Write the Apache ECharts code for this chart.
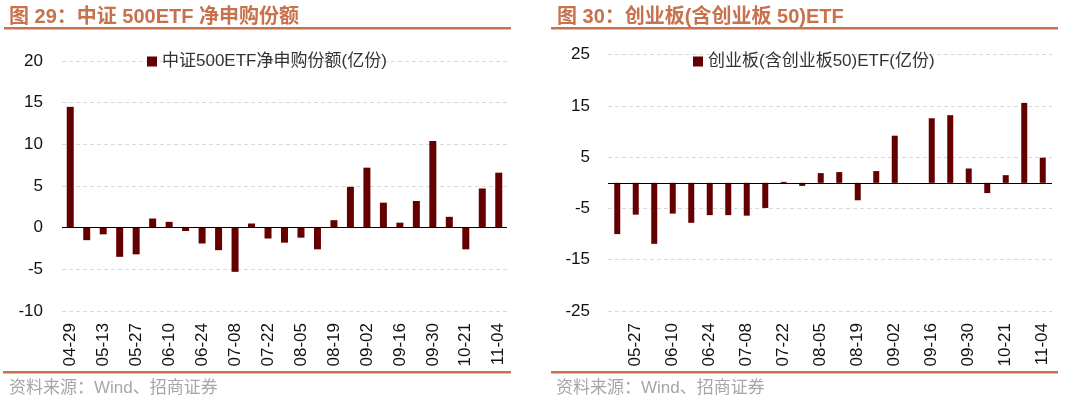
<!DOCTYPE html>
<html>
<head>
<meta charset="utf-8">
<script src="https://cdn.jsdelivr.net/npm/echarts@6/dist/echarts.min.js"></script>
<style>
html,body{margin:0;padding:0;background:#fff;}
#c{width:1080px;height:398px;}
</style>
</head>
<body>
<div id="c"></div>
<script>
// ---- data ----
const cats1 = ['04-29','05-06','05-13','05-20','05-27','06-03','06-10','06-17','06-24','07-01','07-08','07-15','07-22','07-29','08-05','08-12','08-19','08-26','09-02','09-09','09-16','09-23','09-30','10-14','10-21','10-28','11-04'];
const vals1 = [14.5,-1.5,-0.8,-3.5,-3.2,1.1,0.7,-0.4,-1.9,-2.7,-5.3,0.5,-1.3,-1.8,-1.2,-2.6,0.9,4.9,7.2,3.0,0.6,3.2,10.4,1.3,-2.6,4.7,6.6];
const cats2 = ['05-20','05-27','06-03','06-10','06-17','06-24','07-01','07-08','07-15','07-22','07-29','08-05','08-12','08-19','08-26','09-02','09-09','09-16','09-23','09-30','10-14','10-21','10-28','11-04'];
const vals2 = [-10.0,-6.2,-11.9,-6.0,-7.8,-6.3,-6.3,-6.4,-4.9,0.2,-0.6,1.9,2.1,-3.4,2.3,9.2,0,12.6,13.2,2.8,-2.0,1.5,15.6,4.9];
const yAxis1 = {min:-10, max:20, interval:5};
const yAxis2 = {min:-25, max:25, interval:5};
const name1 = '中证500ETF净申购份额(亿份)';
const name2 = '创业板(含创业板50)ETF(亿份)';
const title1 = '图 29：中证 500ETF 净申购份额';
const title2 = '图 30：创业板(含创业板 50)ETF';
const source = '资料来源：Wind、招商证券';

const FONT = '"Liberation Sans", Arial, "Noto Sans CJK SC", sans-serif';
const BAR = '#640000';
const ORANGE = '#c8714d';

const chart = echarts.init(document.getElementById('c'), null, {renderer:'canvas'});

function zeroLine(){
  return {silent:true, symbol:['none','none'], label:{show:false},
    lineStyle:{color:'#000', width:1, type:'solid'}, data:[{yAxis:0}]};
}

const option = {
  animation:false,
  textStyle:{fontFamily:FONT},
  title:[
    {text:title1, left:4, top:2, textStyle:{fontSize:20, fontWeight:'bold', color:ORANGE, fontFamily:FONT}},
    {text:title2, left:552, top:2, textStyle:{fontSize:20, fontWeight:'bold', color:ORANGE, fontFamily:FONT}},
    {text:source, left:4, top:375, textStyle:{fontSize:17, fontWeight:'normal', color:'#a6a6a6', fontFamily:FONT}},
    {text:source, left:551, top:375, textStyle:{fontSize:17, fontWeight:'normal', color:'#a6a6a6', fontFamily:FONT}}
  ],
  graphic:[
    {type:'rect', shape:{x:4, y:27, width:507, height:2.5}, style:{fill:ORANGE}},
    {type:'rect', shape:{x:551, y:27, width:507, height:2.5}, style:{fill:ORANGE}},
    {type:'rect', shape:{x:3, y:371, width:508, height:2.5}, style:{fill:ORANGE}},
    {type:'rect', shape:{x:551, y:371, width:507, height:2.5}, style:{fill:ORANGE}}
  ],
  legend:[
    {data:[name1], left:142, top:48, itemWidth:10, itemHeight:10, itemGap:5,
     textStyle:{fontSize:17, color:'#333', fontFamily:FONT}, icon:'rect'},
    {data:[name2], left:688, top:48, itemWidth:10, itemHeight:10, itemGap:5,
     textStyle:{fontSize:17, color:'#333', fontFamily:FONT}, icon:'rect'}
  ],
  grid:[
    {left:62, right:1080-507, top:61, bottom:398-311},
    {left:608, right:1080-1052, top:54.7, bottom:398-311}
  ],
  xAxis:[
    {type:'category', gridIndex:0, data:cats1,
     axisLine:{show:false, onZero:false}, axisTick:{show:false},
     axisLabel:{rotate:90, interval:1, margin:12, fontSize:17, color:'#111', fontFamily:FONT}},
    {type:'category', gridIndex:1, data:cats2,
     axisLine:{show:false, onZero:false}, axisTick:{show:false},
     axisLabel:{rotate:90, interval:(i)=> i % 2 === 1, margin:12, fontSize:17, color:'#111', fontFamily:FONT}}
  ],
  yAxis:[
    {type:'value', gridIndex:0, min:yAxis1.min, max:yAxis1.max, interval:yAxis1.interval,
     axisLine:{show:false}, axisTick:{show:false},
     axisLabel:{fontSize:17, color:'#111', margin:19, fontFamily:FONT},
     splitLine:{show:true, lineStyle:{color:'#d9d9d9', type:[4,3], width:1}}},
    {type:'value', gridIndex:1, min:yAxis2.min, max:yAxis2.max, interval:yAxis2.interval,
     axisLine:{show:false}, axisTick:{show:false},
     axisLabel:{fontSize:17, color:'#111', margin:18, fontFamily:FONT,
       formatter:(v)=> (Math.abs(v) % 10 === 5) ? String(v) : ''},
     splitLine:{show:true, lineStyle:{color:['#d9d9d9','rgba(0,0,0,0)'], type:[4,3], width:1}}}
  ],
  series:[
    {name:name1, type:'bar', xAxisIndex:0, yAxisIndex:0, data:vals1, barWidth:7,
     itemStyle:{color:BAR}, markLine:zeroLine()},
    {name:name2, type:'bar', xAxisIndex:1, yAxisIndex:1, data:vals2, barWidth:6,
     itemStyle:{color:BAR}, markLine:zeroLine()}
  ]
};
chart.setOption(option);
</script>
</body>
</html>
